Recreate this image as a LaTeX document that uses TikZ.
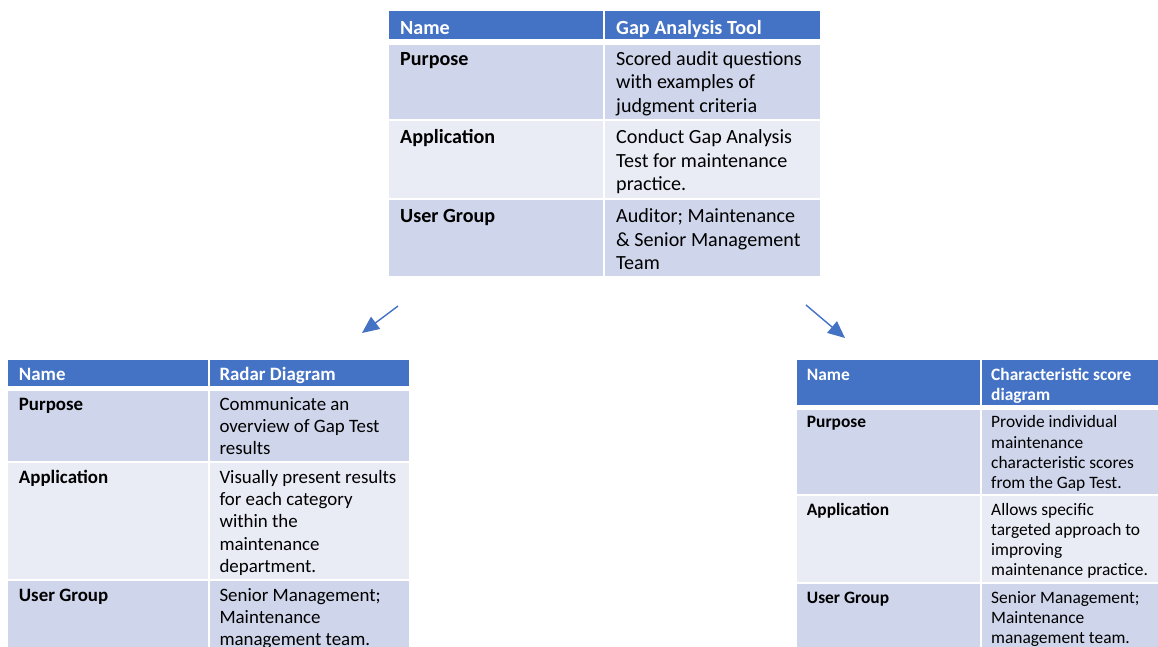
\documentclass[tikz,border=0pt]{standalone}
\usepackage{fontspec}
\setmainfont{Carlito}
\usetikzlibrary{arrows.meta}
\definecolor{hdblue}{HTML}{4472C4}
\definecolor{rowdark}{HTML}{CFD5EA}
\definecolor{rowlight}{HTML}{E9EBF5}
\tikzset{
  celltxt/.style={anchor=north west,inner sep=0,align=left,execute at begin node={\strut}},
  toptxt/.style={celltxt,yshift=16.45pt,font=\fontsize{20.1}{23.5}\selectfont},
  lefttxt/.style={celltxt,yshift=15.54pt,font=\fontsize{18.9}{22.2}\selectfont},
  righttxt/.style={celltxt,yshift=14.07pt,font=\fontsize{17.4}{20.1}\selectfont},
  arr/.style={draw=hdblue,line width=1.4,-{Triangle[length=17,width=15]}}
}
\begin{document}
\begin{tikzpicture}[x=1pt,y=-1pt]
\useasboundingbox (0,0) rectangle (1158,647);
% top table
\fill[hdblue] (389,11) rectangle (603,39);
\fill[hdblue] (605,11) rectangle (820,39);
\fill[rowdark] (389,45.5) rectangle (603,119);
\fill[rowdark] (605,45.5) rectangle (820,119);
\fill[rowlight] (389,121) rectangle (603,198);
\fill[rowlight] (605,121) rectangle (820,198);
\fill[rowdark] (389,200) rectangle (603,276);
\fill[rowdark] (605,200) rectangle (820,276);
\node[toptxt] (tname) at (400,34.3) {\color{white}\bfseries Name};
\node[toptxt] (ttool) at (616,34.3) {\color{white}\bfseries Gap Analysis Tool};
\node[toptxt] (tpurp) at (400,65) {\bfseries Purpose};
\node[toptxt] (tpurpx) at (616,65) {\strut Scored audit questions\\with examples of\\judgment criteria};
\node[toptxt] (tappl) at (400,143.3) {\bfseries Application};
\node[toptxt] (tapplx) at (616,143.3) {\strut Conduct Gap Analysis\\Test for maintenance\\practice.};
\node[toptxt] (tuser) at (400,222.3) {\bfseries User Group};
\node[toptxt] (tuserx) at (616,222.3) {\strut Auditor; Maintenance\\\& Senior Management\\Team};
% left table
\fill[hdblue] (8,359.5) rectangle (207.5,386);
\fill[hdblue] (209.5,359.5) rectangle (409,386);
\fill[rowdark] (8,391) rectangle (207.5,461);
\fill[rowdark] (209.5,391) rectangle (409,461);
\fill[rowlight] (8,463) rectangle (207.5,579);
\fill[rowlight] (209.5,463) rectangle (409,579);
\fill[rowdark] (8,581) rectangle (207.5,647);
\fill[rowdark] (209.5,581) rectangle (409,647);
\node[lefttxt] (lname) at (18.7,380) {\color{white}\bfseries Name};
\node[lefttxt] (lradar) at (219.3,380) {\color{white}\bfseries Radar Diagram};
\node[lefttxt] (lpurp) at (18.7,410) {\bfseries Purpose};
\node[lefttxt] (lpurpx) at (219.3,410) {\strut Communicate an\\overview of Gap Test\\results};
\node[lefttxt] (lappl) at (18.7,483.3) {\bfseries Application};
\node[lefttxt] (lapplx) at (219.3,483.3) {\strut Visually present results\\for each category\\within the\\maintenance\\department.};
\node[lefttxt] (luser) at (18.7,601) {\bfseries User Group};
\node[lefttxt] (luserx) at (219.3,601) {\strut Senior Management;\\Maintenance\\management team.};
% right table
\fill[hdblue] (797,360) rectangle (979.5,404.5);
\fill[hdblue] (981.5,360) rectangle (1158,404.5);
\fill[rowdark] (797,409.5) rectangle (979.5,493.5);
\fill[rowdark] (981.5,409.5) rectangle (1158,493.5);
\fill[rowlight] (797,495.5) rectangle (979.5,582);
\fill[rowlight] (981.5,495.5) rectangle (1158,582);
\fill[rowdark] (797,584) rectangle (979.5,647);
\fill[rowdark] (981.5,584) rectangle (1158,647);
\node[righttxt] (rname) at (806.7,380) {\color{white}\bfseries Name};
\node[righttxt] (rchar) at (991,380) {\strut\color{white}\bfseries Characteristic score\\\color{white}\bfseries diagram};
\node[righttxt] (rpurp) at (806.7,427.7) {\bfseries Purpose};
\node[righttxt] (rpurpx) at (991,427.7) {\strut Provide individual\\maintenance\\characteristic scores\\from the Gap Test.};
\node[righttxt] (rappl) at (806.7,515.3) {\bfseries Application};
\node[righttxt] (rapplx) at (991,515.3) {\strut Allows specific\\targeted approach to\\improving\\maintenance practice.};
\node[righttxt] (ruser) at (806.7,603) {\bfseries User Group};
\node[righttxt] (ruserx) at (991,603) {\strut Senior Management;\\Maintenance\\management team.};
% arrows
\coordinate (la0) at (398,306);
\coordinate (la1) at (362,333);
\coordinate (ra0) at (806,305);
\coordinate (ra1) at (845,338);
\draw[arr] (la0) -- (la1);
\draw[arr] (ra0) -- (ra1);
\end{tikzpicture}
\end{document}
